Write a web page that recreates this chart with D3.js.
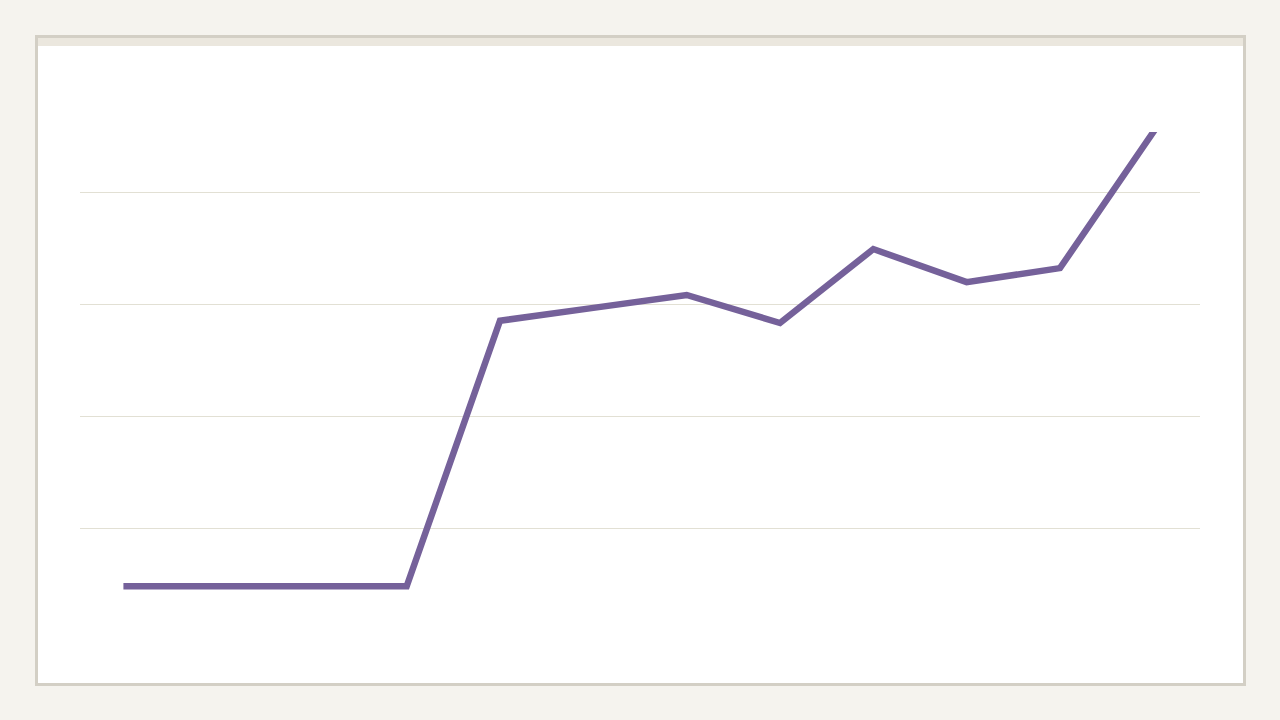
<!DOCTYPE html>
<html>
<head>
<meta charset="utf-8">
<script src="https://cdn.jsdelivr.net/npm/d3@7"></script>
<style>
  html, body { margin: 0; padding: 0; background: #f5f3ee; }
  svg { display: block; }
</style>
</head>
<body>
<div id="chart"></div>
<script>
// data
var periods = ["P1", "P2", "P3", "P4", "P5", "P6", "P7", "P8", "P9", "P10", "P11", "P12"];
var values = [9.6, 9.6, 9.6, 9.6, 57.0, 59.3, 61.6, 56.6, 69.8, 63.9, 66.4, 90.7];
var gridTicks = [20, 40, 60, 80];

var width = 1280, height = 720;

var svg = d3.select("#chart").append("svg")
    .attr("width", width)
    .attr("height", height);

svg.append("rect")
    .attr("width", width)
    .attr("height", height)
    .attr("fill", "#f5f3ee");

// card
svg.append("rect")
    .attr("x", 36.5)
    .attr("y", 36.5)
    .attr("width", 1208)
    .attr("height", 648)
    .attr("fill", "#ffffff")
    .attr("stroke", "#d3cfc5")
    .attr("stroke-width", 3);

svg.append("rect")
    .attr("x", 38)
    .attr("y", 38)
    .attr("width", 1205)
    .attr("height", 8)
    .attr("fill", "#ebe7de");

var plot = { left: 80, right: 1200, top: 132, bottom: 640 };

var x = d3.scalePoint()
    .domain(periods)
    .range([plot.left, plot.right])
    .padding(0.5);

var y = d3.scaleLinear()
    .domain([0, d3.max(values)])
    .range([plot.bottom, plot.top]);

var g = svg.append("g");

g.selectAll("line.grid")
    .data(gridTicks)
    .enter().append("line")
    .attr("class", "grid")
    .attr("x1", plot.left)
    .attr("x2", plot.right)
    .attr("y1", function(d){ return Math.round(y(d)) + 0.5; })
    .attr("y2", function(d){ return Math.round(y(d)) + 0.5; })
    .attr("stroke", "#e2e0d4")
    .attr("stroke-width", 1);

svg.append("clipPath")
    .attr("id", "plot-clip")
    .append("rect")
    .attr("x", 0)
    .attr("y", plot.top)
    .attr("width", width)
    .attr("height", plot.bottom - plot.top + 20);

var line = d3.line()
    .curve(d3.curveLinear)
    .x(function(d, i){ return x(periods[i]); })
    .y(function(d){ return y(d); });

g.append("path")
    .datum(values)
    .attr("clip-path", "url(#plot-clip)")
    .attr("d", line)
    .attr("fill", "none")
    .attr("stroke", "#75619a")
    .attr("stroke-width", 6.5)
    .attr("stroke-linecap", "square")
    .attr("stroke-linejoin", "miter");
</script>
</body>
</html>
